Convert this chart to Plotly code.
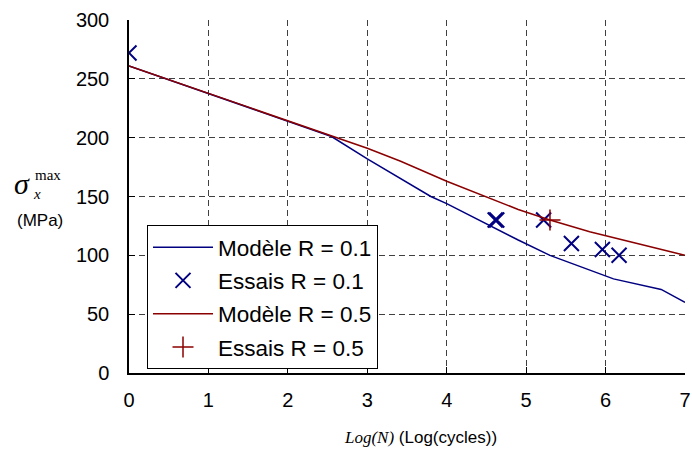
import plotly.graph_objects as go

# Model curves
logN_model_r01 = [0, 2.55, 3.0, 3.8, 4.0, 4.9, 5.3, 6.1, 6.7, 7.0]
sigma_model_r01 = [261, 201, 182, 150, 144, 113, 100, 80, 71, 60]
logN_model_r05 = [0, 2.55, 3.0, 3.42, 4.0, 4.9, 5.3, 5.8, 7.0]
sigma_model_r05 = [261, 201, 191, 180, 163, 139, 130, 120, 100]

# Test points
logN_test_r01 = [0, 4.61, 4.63, 5.22, 5.57, 5.96, 6.17]
sigma_test_r01 = [272, 130, 130, 130, 110, 105, 100]
logN_test_r05 = [5.30]
sigma_test_r05 = [130]

x_ticks = [0, 1, 2, 3, 4, 5, 6, 7]
y_ticks = [0, 50, 100, 150, 200, 250, 300]

BLUE = "#000080"
RED = "#8B0000"
SANS = "Liberation Sans, Arial, sans-serif"
SERIF = "Liberation Serif, Times New Roman, serif"

fig = go.Figure()
fig.add_trace(go.Scatter(x=logN_model_r01, y=sigma_model_r01, mode="lines",
                         line=dict(color=BLUE, width=1.5), name="Modèle R = 0.1",
                         legendgroup="a"))
fig.add_trace(go.Scatter(x=logN_test_r01, y=sigma_test_r01, mode="markers",
                         marker=dict(symbol="x-thin-open", size=15, color=BLUE,
                                     line=dict(color=BLUE, width=2)),
                         name="Essais R = 0.1", legendgroup="b"))
fig.add_trace(go.Scatter(x=logN_model_r05, y=sigma_model_r05, mode="lines",
                         line=dict(color=RED, width=1.5), name="Modèle R = 0.5",
                         legendgroup="c"))
fig.add_trace(go.Scatter(x=logN_test_r05, y=sigma_test_r05, mode="markers",
                         marker=dict(symbol="cross-thin-open", size=15, color=RED,
                                     line=dict(color=RED, width=1.5)),
                         name="Essais R = 0.5", legendgroup="d"))

grid = dict(showgrid=True, gridcolor="#404040", gridwidth=1, griddash="6px,4px")

fig.update_xaxes(range=[0, 7], tickvals=x_ticks, ticktext=[str(v) for v in x_ticks],
                 showline=True, linecolor="black", linewidth=1.5,
                 ticks="inside", ticklen=6, tickcolor="black",
                 tickfont=dict(family=SANS, size=20, color="black"),
                 ticklabelstandoff=8, zeroline=False, automargin=False, **grid)
fig.update_yaxes(range=[0, 300], tickvals=y_ticks, ticktext=[str(v) for v in y_ticks],
                 showline=True, linecolor="black", linewidth=1.5,
                 ticks="inside", ticklen=6, tickcolor="black",
                 tickfont=dict(family=SANS, size=20, color="black"),
                 ticklabelstandoff=14, zeroline=False, automargin=False, **grid)

L, R, T, B = 129, 7, 20, 79


def ann(text, px, py, font, xanchor="center"):
    fig.add_annotation(text=text, xref="paper", yref="paper", x=0, y=0,
                       xshift=px - L, yshift=(452 - B) - py, showarrow=False,
                       xanchor=xanchor, yanchor="middle", font=font)


ann("<i>σ</i>", 22, 183, dict(family=SERIF, size=30, color="black"))
ann("max", 48, 175, dict(family=SERIF, size=15, color="black"))
ann("<i>x</i>", 37, 194, dict(family=SERIF, size=15, color="black"))
ann("(MPa)", 40, 220, dict(family=SANS, size=17, color="black"))
ann('<span style="font-family:Liberation Serif"><i>Log(N)</i></span> (Log(cycles))',
    420, 437, dict(family=SANS, size=17, color="black"))

fig.update_layout(
    width=692, height=452,
    margin=dict(l=L, r=R, t=T, b=B, autoexpand=False),
    paper_bgcolor="white", plot_bgcolor="white",
    showlegend=True,
    legend=dict(x=(147 - L) / 556, y=(373 - 225) / 353, xanchor="left", yanchor="top",
                bgcolor="white", bordercolor="black", borderwidth=1,
                font=dict(family=SANS, size=22.5, color="black"),
                tracegroupgap=1, itemwidth=60),
)

fig.write_html("out.html", config={"displayModeBar": False},
               post_script="document.body.style.margin='0';document.body.style.overflow='hidden';")
